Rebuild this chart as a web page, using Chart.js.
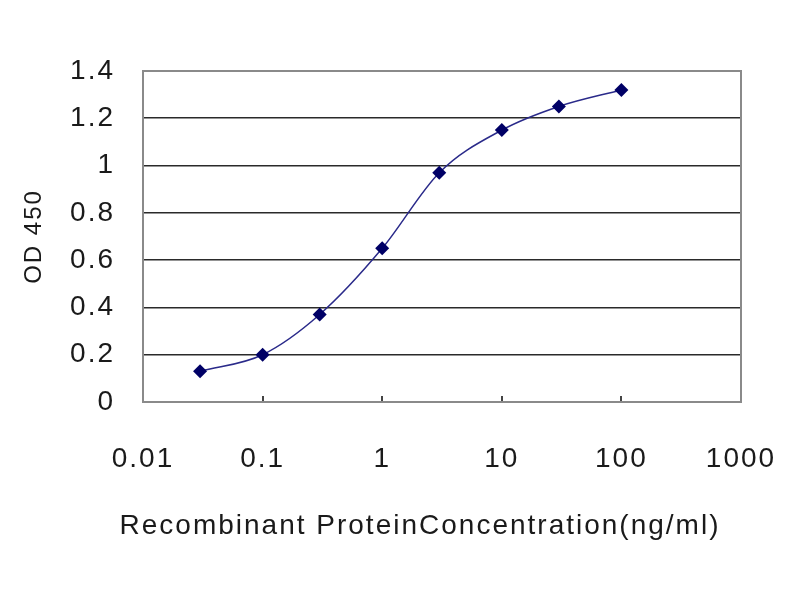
<!DOCTYPE html>
<html>
<head>
<meta charset="utf-8">
<script src="https://cdn.jsdelivr.net/npm/chart.js@4/dist/chart.umd.min.js"></script>
<style>
  html, body { margin: 0; padding: 0; background: #fff; }
  #wrap { width: 800px; height: 600px; }
</style>
</head>
<body>
<div id="wrap"><canvas id="myChart" width="800" height="600"></canvas></div>
<script>
const concentrations = [0.03, 0.1, 0.3, 1, 3, 10, 30, 100];
const od450 = [0.13, 0.2, 0.37, 0.65, 0.97, 1.15, 1.25, 1.32];
const xTickValues = [0.01, 0.1, 1, 10, 100, 1000];
const xTitle = 'Recombinant ProteinConcentration(ng/ml)';
const yTitle = 'OD 450';

const fontFamily = '"Liberation Sans", Arial, sans-serif';
const textColor = '#1a1a1a';

// the reference text is a little stretched sideways
const spacing = {
    id: 'spacing',
    beforeDraw(chart) { chart.ctx.letterSpacing = '2px'; },
    afterDraw(chart) { chart.ctx.letterSpacing = '0px'; }
};

// grey frame around the plot area
const frame = {
    id: 'frame',
    afterDatasetsDraw(chart) {
        const a = chart.chartArea;
        const c = chart.ctx;
        c.save();
        c.strokeStyle = '#8a8a8a';
        c.lineWidth = 2;
        c.strokeRect(a.left, a.top, a.right - a.left, a.bottom - a.top);
        c.restore();
    }
};

const ctx = document.getElementById('myChart').getContext('2d');

const myChart = new Chart(ctx, {
    type: 'line',
    data: {
        datasets: [{
            label: yTitle,
            data: concentrations.map((x, i) => ({ x: x, y: od450[i] })),
            borderColor: '#2a2a8a',
            borderWidth: 1.5,
            backgroundColor: '#000066',
            pointStyle: 'rectRot',
            pointRadius: 7,
            pointBorderWidth: 0,
            cubicInterpolationMode: 'monotone',
            fill: false
        }]
    },
    options: {
        responsive: false,
        animation: false,
        layout: { padding: { left: 40, right: 0, top: 71, bottom: 57 } },
        plugins: {
            legend: { display: false },
            tooltip: { enabled: false },
            title: {
                display: true,
                position: 'bottom',
                text: xTitle,
                color: textColor,
                font: { family: fontFamily, size: 28, weight: 'normal' },
                padding: 0
            }
        },
        scales: {
            x: {
                type: 'logarithmic',
                min: 0.01,
                max: 1000,
                afterBuildTicks(scale) {
                    scale.ticks = xTickValues.map(v => ({ value: v }));
                },
                afterFit(scale) {
                    scale.height = 107.4;
                    scale.paddingLeft = 0;
                    scale.paddingRight = 0;
                },
                grid: { drawOnChartArea: false, tickLength: -6, color: '#444', lineWidth: 2 },
                border: { color: '#8a8a8a', width: 2 },
                ticks: {
                    padding: 46,
                    color: textColor,
                    font: { family: fontFamily, size: 28 },
                    autoSkip: false,
                    maxRotation: 0,
                    callback: v => String(v)
                }
            },
            y: {
                min: 0,
                max: 1.4,
                afterFit(scale) { scale.width = 103; },
                grid: {
                    drawTicks: false,
                    color: c => c.tick && c.tick.value >= 1.4 ? '#9a9a9a' : '#2a2a2a',
                    lineWidth: 1.6
                },
                border: { color: '#8a8a8a', width: 2 },
                title: {
                    display: true,
                    text: yTitle,
                    color: textColor,
                    font: { family: fontFamily, size: 24 },
                    padding: { top: -20, bottom: 0 }
                },
                ticks: {
                    stepSize: 0.2,
                    padding: 28,
                    color: textColor,
                    font: { family: fontFamily, size: 28 },
                    callback: v => String(+v.toFixed(1))
                }
            },
            yRight: {
                position: 'right',
                min: 0,
                max: 1.4,
                afterFit(scale) { scale.width = 59; },
                grid: { display: false },
                border: { display: false },
                ticks: { display: false }
            }
        }
    },
    plugins: [spacing, frame]
});
</script>
</body>
</html>
